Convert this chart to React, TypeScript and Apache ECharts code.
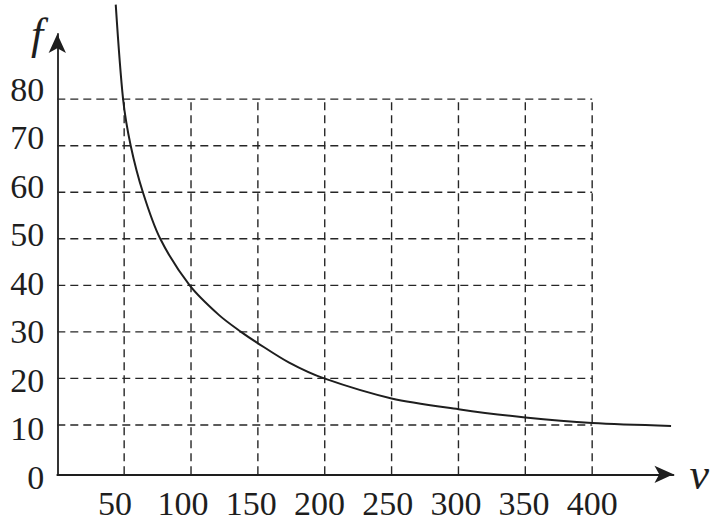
import React, { useEffect, useRef } from "react";
import * as echarts from "echarts";

// tick labels
const xTicks = [50, 100, 150, 200, 250, 300, 350, 400];
const yTicks = [0, 10, 20, 30, 40, 50, 60, 70, 80];

// curve f(v)
const curveV = [43.7, 49.2, 54.9, 64, 77, 99, 121, 137.4, 149.3, 173.4, 199.6, 250, 300, 350, 400, 459];
const curveF = [100.3, 80, 70, 60, 50, 40, 33.6, 30, 27.7, 23.4, 20, 15.7, 13.4, 11.6, 10.4, 9.8];

const INK = "#1e1e1e";
const LABEL_FONT = "Liberation Serif";
const NAME_FONT = "Liberation Serif";

export default function App() {
  const ref = useRef<HTMLDivElement>(null);

  useEffect(() => {
    if (!ref.current) return;
    const chart = echarts.init(ref.current, undefined, { renderer: "svg" });

    const gridXMax = xTicks[xTicks.length - 1];
    const gridYMax = yTicks[yTicks.length - 1];
    const yMin = -0.6;

    const dashStyle = { color: "#262626", width: 1.4, type: [8, 5] as number[] };

    const gridSeries: any[] = [];
    yTicks.slice(1).forEach((y) => {
      gridSeries.push({
        type: "line",
        xAxisIndex: 0,
        yAxisIndex: 0,
        data: [
          [0, y],
          [gridXMax, y],
        ],
        symbol: "none",
        silent: true,
        lineStyle: dashStyle,
      });
    });
    xTicks.forEach((x) => {
      gridSeries.push({
        type: "line",
        xAxisIndex: 0,
        yAxisIndex: 0,
        data: [
          [x, yMin],
          [x, gridYMax],
        ],
        symbol: "none",
        silent: true,
        lineStyle: dashStyle,
      });
    });

    const labelStyle = {
      show: true,
      fontFamily: LABEL_FONT,
      fontSize: 34,
      lineHeight: 34,
      color: INK,
      showMinLabel: true,
      showMaxLabel: true,
    };

    chart.setOption({
      animation: false,
      backgroundColor: "#ffffff",
      grid: [
        { left: 57.3, right: 36.3, top: 34, bottom: 47.7 },
        { left: 57.3, right: 36.3, top: 89, bottom: 45 },
        { left: 114.9, right: 119.7, top: 34, bottom: 47.7 },
      ],
      xAxis: [
        {
          type: "value",
          gridIndex: 0,
          min: 0,
          max: 460.8,
          name: "v",
          nameLocation: "end",
          nameGap: 16,
          nameTextStyle: {
            fontFamily: NAME_FONT,
            fontStyle: "italic",
            fontSize: 44,
            color: INK,
            align: "left",
            verticalAlign: "middle",
            padding: [15, 0, 0, 0],
          },
          axisLine: {
            show: true,
            onZero: false,
            symbol: ["none", "arrow"],
            symbolSize: [13, 19],
            lineStyle: { color: INK, width: 1.8 },
          },
          axisTick: { show: false },
          axisLabel: { show: false },
          splitLine: { show: false },
        },
        {
          type: "value",
          gridIndex: 1,
          show: false,
          min: 0,
          max: 100,
        },
        {
          type: "value",
          gridIndex: 2,
          min: xTicks[0],
          max: gridXMax,
          interval: 50,
          axisLine: { show: false },
          axisTick: { show: false },
          splitLine: { show: false },
          axisLabel: { ...labelStyle, margin: 12 },
        },
      ],
      yAxis: [
        {
          type: "value",
          gridIndex: 0,
          min: yMin,
          max: 94,
          name: "f",
          nameLocation: "end",
          nameGap: 0,
          nameTextStyle: {
            fontFamily: NAME_FONT,
            fontStyle: "italic",
            fontSize: 44,
            color: INK,
            align: "right",
            verticalAlign: "middle",
            padding: [0, 14, 10, 0],
          },
          axisLine: {
            show: true,
            symbol: ["none", "arrow"],
            symbolSize: [13, 19],
            lineStyle: { color: INK, width: 1.8 },
          },
          axisTick: { show: false },
          axisLabel: { show: false },
          splitLine: { show: false },
        },
        {
          type: "value",
          gridIndex: 1,
          min: yTicks[0],
          max: gridYMax,
          interval: 10,
          axisLine: { show: false },
          axisTick: { show: false },
          splitLine: { show: false },
          axisLabel: { ...labelStyle, margin: 13 },
        },
        {
          type: "value",
          gridIndex: 2,
          show: false,
          min: 0,
          max: 100,
        },
      ],
      series: [
        ...gridSeries,
        {
          type: "line",
          xAxisIndex: 0,
          yAxisIndex: 0,
          data: curveV.map((v, i) => [v, curveF[i]]),
          symbol: "none",
          smooth: 0.3,
          clip: false,
          silent: true,
          lineStyle: { color: INK, width: 2 },
          z: 5,
        },
      ],
    });

    return () => chart.dispose();
  }, []);

  return (
    <div
      ref={ref}
      style={{ position: "fixed", left: 0, top: 0, width: 712, height: 522, background: "#fff" }}
    />
  );
}
